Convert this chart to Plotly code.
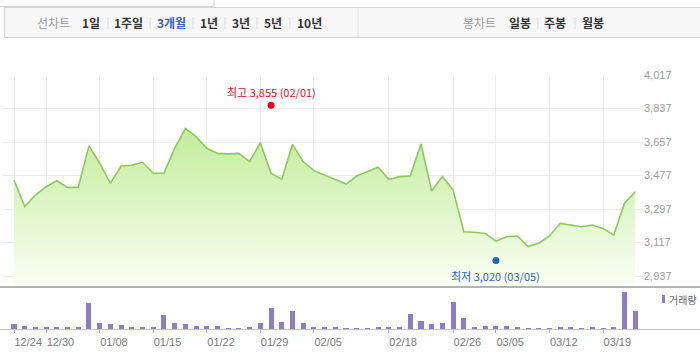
import plotly.graph_objects as go

# ---- data ----
close = [3453, 3310, 3372, 3417, 3449, 3413, 3413, 3636, 3543, 3435,
         3528, 3532, 3548, 3489, 3489, 3623, 3730, 3686, 3623, 3596,
         3593, 3596, 3552, 3653, 3489, 3456, 3644, 3552, 3503, 3480,
         3456, 3431, 3474, 3498, 3521, 3456, 3471, 3474, 3646, 3394,
         3471, 3399, 3175, 3172, 3166, 3125, 3148, 3152, 3095, 3113,
         3152, 3220, 3211, 3202, 3211, 3193, 3157, 3328, 3390]
volume = [14, 8, 5, 5, 5, 5, 6, 79, 17, 14,
          11, 6, 6, 5, 42, 17, 14, 9, 8, 8,
          2, 2, 5, 17, 64, 20, 54, 17, 5, 4,
          4, 2, 2, 2, 5, 5, 5, 44, 24, 14,
          17, 82, 33, 5, 8, 8, 8, 5, 2, 2,
          2, 5, 5, 2, 5, 2, 5, 110, 54]
tick_idx = [0, 3, 8, 13, 18, 23, 28, 35, 41, 45, 50, 55]
tick_labels = ['12/24', '12/30', '01/08', '01/15', '01/22', '01/29',
               '02/05', '02/18', '02/26', '03/05', '03/12', '03/19']
y_ticks = [2937, 3117, 3297, 3477, 3657, 3837, 4017]
high_val, high_idx, high_date = 3855, 24, '02/01'
low_val, low_idx, low_date = 3020, 45, '03/05'
menu_left = ['1일', '1주일', '3개월', '1년', '3년', '5년', '10년']
menu_right = ['일봉', '주봉', '월봉']

x = list(range(len(close)))

# ---- layout helpers (pixel -> paper) ----
W, H = 700, 355
ML, MR, MT, MB = 3, 57, 75, 26
PW, PH = W - ML - MR, H - MT - MB


def px(xp):
    return (xp - ML) / PW


def py(yp):
    return (H - MB - yp) / PH


KFONT = "Noto Sans CJK KR"
NFONT = "Liberation Sans"

fig = go.Figure()

fig.add_trace(go.Scatter(
    x=x, y=close, mode='lines',
    line=dict(color='#8cc85a', width=1.6),
    fill='tozeroy',
    fillgradient=dict(type='vertical',
                      colorscale=[[0, 'rgba(250,255,246,1)'], [1, 'rgba(194,236,154,1)']],
                      start=2878, stop=3740),
    xaxis='x', yaxis='y', hoverinfo='skip', showlegend=False))

fig.add_trace(go.Scatter(
    x=[high_idx], y=[high_val], mode='markers',
    marker=dict(color='#e8001c', size=7), xaxis='x', yaxis='y',
    showlegend=False, hoverinfo='skip'))
fig.add_trace(go.Scatter(
    x=[low_idx], y=[low_val], mode='markers',
    marker=dict(color='#1f62cc', size=7), xaxis='x', yaxis='y',
    showlegend=False, hoverinfo='skip'))

fig.add_trace(go.Bar(
    x=x, y=volume, marker=dict(color='#8f7dc4', line=dict(width=0)),
    width=0.47, xaxis='x2', yaxis='y2', showlegend=False, hoverinfo='skip'))

xr = [-1.027, 58.73]
fig.update_layout(
    width=W, height=H,
    margin=dict(l=ML, r=MR, t=MT, b=MB),
    paper_bgcolor='white', plot_bgcolor='rgba(0,0,0,0)',
    xaxis=dict(domain=[0, 1], range=xr, anchor='y', tickmode='array',
               tickvals=tick_idx, showticklabels=False, showgrid=True,
               gridcolor='#ebebeb', gridwidth=1, zeroline=False, showline=False),
    yaxis=dict(domain=[py(287), 1], range=[2878, 4017], side='right',
               tickmode='array', tickvals=y_ticks,
               ticktext=[f"{v:,}" for v in y_ticks],
               tickfont=dict(family=NFONT, size=11, color='#999999'),
               showgrid=True, gridcolor='#ebebeb', zeroline=False, ticks=''),
    xaxis2=dict(domain=[0, 1], range=xr, anchor='y2', tickmode='array',
                tickvals=tick_idx, ticktext=tick_labels, tickangle=0,
                ticklabelposition='outside right', ticklabelstandoff=3,
                tickfont=dict(family=NFONT, size=11, color='#777777'),
                ticks='outside', ticklen=3, tickcolor='#aaaaaa',
                showgrid=False, zeroline=False, showline=False),
    yaxis2=dict(domain=[0, py(291)], range=[0, 114], showticklabels=False,
                showgrid=False, zeroline=False, ticks=''),
    bargap=0,
)

shapes = []
# top-left box
shapes.append(dict(type='rect', xref='paper', yref='paper',
                   x0=px(-2), x1=px(214), y0=py(6.5), y1=py(-5),
                   fillcolor='white', line=dict(color='#d5d5d5', width=1), layer='above'))
# toolbar
shapes.append(dict(type='rect', xref='paper', yref='paper',
                   x0=px(4.5), x1=px(705), y0=py(37.5), y1=py(7.5),
                   fillcolor='#f7f7f7', line=dict(color='#d3d3d3', width=1), layer='above'))
shapes.append(dict(type='line', xref='paper', yref='paper',
                   x0=px(358), x1=px(358), y0=py(8), y1=py(37),
                   line=dict(color='#dedede', width=1), layer='above'))
for sx in [108, 150, 193, 225, 257, 290, 538, 575]:
    shapes.append(dict(type='line', xref='paper', yref='paper',
                       x0=px(sx), x1=px(sx), y0=py(17), y1=py(29),
                       line=dict(color='#dddddd', width=1), layer='above'))
# separator line under price chart
shapes.append(dict(type='line', xref='paper', yref='paper',
                   x0=px(0), x1=px(700), y0=py(287), y1=py(287),
                   line=dict(color='#9a9a9a', width=1.5), layer='above'))
# volume baseline
shapes.append(dict(type='line', xref='paper', yref='paper',
                   x0=px(0), x1=px(700), y0=py(329.5), y1=py(329.5),
                   line=dict(color='#c4c4c4', width=1), layer='above'))
# legend swatch
shapes.append(dict(type='rect', xref='paper', yref='paper',
                   x0=px(662), x1=px(665), y0=py(303), y1=py(295),
                   fillcolor='#8f7dc4', line=dict(width=0), layer='above'))
fig.update_layout(shapes=shapes)

ann = []
centers_left = [90.5, 128.5, 171, 208.5, 241, 272.5, 309.5]
centers_right = [520, 555, 593]
ann.append(dict(text='선차트', x=px(53), y=py(23), xref='paper', yref='paper',
                showarrow=False, xanchor='center', yanchor='middle',
                font=dict(family=KFONT, size=12, color='#999999')))
ann.append(dict(text='봉차트', x=px(479), y=py(23), xref='paper', yref='paper',
                showarrow=False, xanchor='center', yanchor='middle',
                font=dict(family=KFONT, size=12, color='#999999')))
for lab, cx in zip(menu_left, centers_left):
    col = '#3b60c2' if lab == '3개월' else '#333333'
    ann.append(dict(text=f'<b>{lab}</b>', x=px(cx), y=py(23), xref='paper', yref='paper',
                    showarrow=False, xanchor='center', yanchor='middle',
                    font=dict(family=KFONT, size=12, color=col)))
for lab, cx in zip(menu_right, centers_right):
    ann.append(dict(text=f'<b>{lab}</b>', x=px(cx), y=py(23), xref='paper', yref='paper',
                    showarrow=False, xanchor='center', yanchor='middle',
                    font=dict(family=KFONT, size=12, color='#333333')))
# high / low labels
ann.append(dict(text=f'최고 {high_val:,} ({high_date})', x=high_idx, y=high_val,
                xref='x', yref='y', showarrow=False, xanchor='center', yanchor='bottom',
                yshift=3, font=dict(family=KFONT, size=11, color='#e0101e')))
ann.append(dict(text=f'최저 {low_val:,} ({low_date})', x=low_idx, y=low_val,
                xref='x', yref='y', showarrow=False, xanchor='center', yanchor='top',
                yshift=-5, font=dict(family=KFONT, size=11, color='#2d62b8')))
# volume legend
ann.append(dict(text='거래량', x=px(667), y=py(299), xref='paper', yref='paper',
                showarrow=False, xanchor='left', yanchor='middle',
                font=dict(family=KFONT, size=10, color='#666666')))
fig.update_layout(annotations=ann)

fig.write_html("out.html")
